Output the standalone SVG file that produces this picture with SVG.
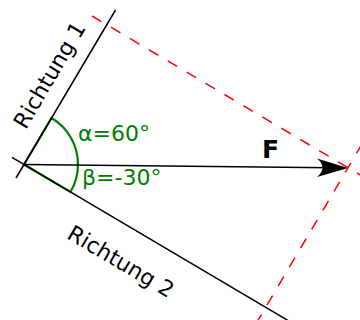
<svg xmlns="http://www.w3.org/2000/svg" width="360" height="320" viewBox="0 0 360 320">
  <style>
    .axis { stroke: #000; stroke-width: 1.5; fill: none; }
    .helper { stroke: #ff0000; stroke-width: 1.5; stroke-dasharray: 11 11; fill: none; }
    .angle { stroke: #008000; stroke-width: 2.2; fill: none; }
    .lbl { font-family: "DejaVu Sans", sans-serif; font-size: 22px; fill: #000; }
    .glbl { font-family: "DejaVu Sans", sans-serif; font-size: 22px; fill: #008000; }
    .force { font-family: "DejaVu Sans", sans-serif; font-size: 25px; font-weight: bold; fill: #000; }
  </style>
  <rect width="360" height="320" fill="#fff"/>
  <g id="helpers">
    <line class="helper" x1="92" y1="16" x2="362" y2="176"/>
    <line class="helper" x1="362" y1="144" x2="257" y2="322"/>
  </g>
  <g id="angles">
    <path class="angle" d="M24,164.5 L51.5,118 A54,54 0 0 1 78,165.1 A54,54 0 0 1 70.5,192 Z"/>
  </g>
  <g id="connectors">
    <line id="richtung1-line" class="axis" x1="16" y1="178" x2="115.5" y2="10"/>
    <line id="richtung2-line" class="axis" x1="12" y1="157.4" x2="290" y2="321.7"/>
    <line id="force-line" class="axis" x1="24" y1="164.5" x2="330" y2="167.8"/>
    <path id="force-head" d="M348,168 L317,158.5 Q328,167.7 317,177 Z" fill="#000"/>
  </g>
  <g id="richtung1">
    <text class="lbl" transform="translate(56,79) rotate(-59.4)" text-anchor="middle">Richtung 1</text>
  </g>
  <g id="richtung2">
    <text class="lbl" transform="translate(117,268) rotate(30.6)" text-anchor="middle">Richtung 2</text>
  </g>
  <g id="alpha">
    <text class="glbl" x="78" y="141">α=60°</text>
  </g>
  <g id="beta">
    <text class="glbl" x="82" y="185">β=-30°</text>
  </g>
  <g id="force">
    <text class="force" x="262" y="158">F</text>
  </g>
</svg>
